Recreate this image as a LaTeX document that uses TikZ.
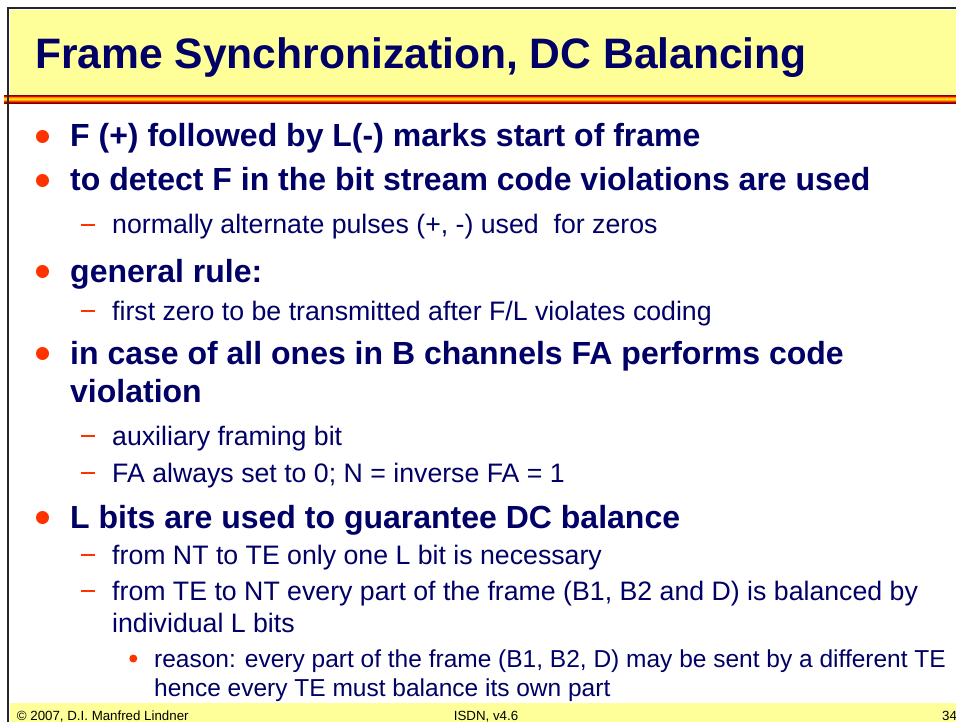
\documentclass[tikz,border=0pt]{standalone}
\usepackage{fontspec}
\setmainfont{Liberation Sans}
\definecolor{navy}{HTML}{000066}
\definecolor{bul}{HTML}{FF3300}
\definecolor{ylw}{HTML}{FFFF99}
\definecolor{sa}{HTML}{800000}
\definecolor{sb}{HTML}{E00000}
\definecolor{sc}{HTML}{FF8000}
\definecolor{sd}{HTML}{FFCC00}
\definecolor{se}{HTML}{FFE000}
\definecolor{sf}{HTML}{FFA000}
\definecolor{sg}{HTML}{FF4000}
\definecolor{sh}{HTML}{C00000}
\definecolor{si}{HTML}{800000}
\begin{document}
\begin{tikzpicture}[x=1pt,y=-1pt,
  lone/.style={anchor=base west,inner sep=0pt,text=navy,font=\fontsize{32}{38}\selectfont\bfseries},
  ltwo/.style={anchor=base west,inner sep=0pt,text=navy,font=\fontsize{26.7}{32}\selectfont},
  lthree/.style={anchor=base west,inner sep=0pt,text=navy,font=\fontsize{24.5}{29}\selectfont},
  foot/.style={inner sep=0pt,text=black,font=\fontsize{13.3}{16}\selectfont},
  bigdot/.style={fill=bul},
  dashmark/.style={fill=bul}]
\useasboundingbox (0,0) rectangle (956,722);
\fill[white] (0,0) rectangle (956,722);
% title band
\fill[ylw] (10,10) rectangle (956,95);
\foreach \c [count=\i] in {sa,sb,sc,sd,se,sf,sg,sh,si}
  \fill[\c] (4,94+\i) rectangle (956,95+\i);
% footer band
\fill[ylw] (10,703) rectangle (956,722);
% frame border
\draw[line width=2pt,color=black!85] (8,722) -- (8,8) -- (956,8);
% title
\node[anchor=base west,inner sep=0pt,text=navy,font=\fontsize{42.6}{50}\selectfont\bfseries] (title) at (35,68.5) {Frame Synchronization, DC Balancing};
% level 1 bullets
\foreach \y in {147,191,282,364,528} \fill[bigdot] (42.5,\y-10.5) circle (6.5);
% level 2 dashes
\foreach \y in {234,320,445,482,564,600} \fill[dashmark] (81,\y-10) rectangle (95,\y-8);
% level 3 dot
\fill[bigdot] (133.3,658.5) circle (4);
% texts
\node[lone] (t1) at (70,147) {F (+) followed by L(-) marks start of frame};
\node[lone] (t2) at (70,191) {to detect F in the bit stream code violations are used};
\node[ltwo] (t3) at (112,234) {normally alternate pulses (+, -) used\ \ for zeros};
\node[lone] (t4) at (70,282) {general rule:};
\node[ltwo] (t5) at (112,320) {first zero to be transmitted after F/L violates coding};
\node[lone] (t6) at (70,364) {in case of all ones in B channels FA performs code};
\node[lone] (t7) at (70,402) {violation};
\node[ltwo] (t8) at (112,445) {auxiliary framing bit};
\node[ltwo] (t9) at (112,482) {FA always set to 0; N = inverse FA = 1};
\node[lone] (t10) at (70,528) {L bits are used to guarantee DC balance};
\node[ltwo] (t11) at (112,564) {from NT to TE only one L bit is necessary};
\node[ltwo] (t12) at (112,600) {from TE to NT every part of the frame (B1, B2 and D) is balanced by};
\node[ltwo] (t13) at (112,632) {individual L bits};
\node[lthree] (t14) at (154,667.5) {reason: every part of the frame (B1, B2, D) may be sent by a different TE};
\node[lthree] (t15) at (154,696.7) {hence every TE must balance its own part};
% footer
\node[foot,anchor=base west] (f1) at (16.7,720.5) {© 2007, D.I. Manfred Lindner};
\node[foot,anchor=base] (f2) at (486,720.5) {ISDN, v4.6};
\node[foot,anchor=base west] (f3) at (942,720.5) {34};
\end{tikzpicture}
\end{document}
